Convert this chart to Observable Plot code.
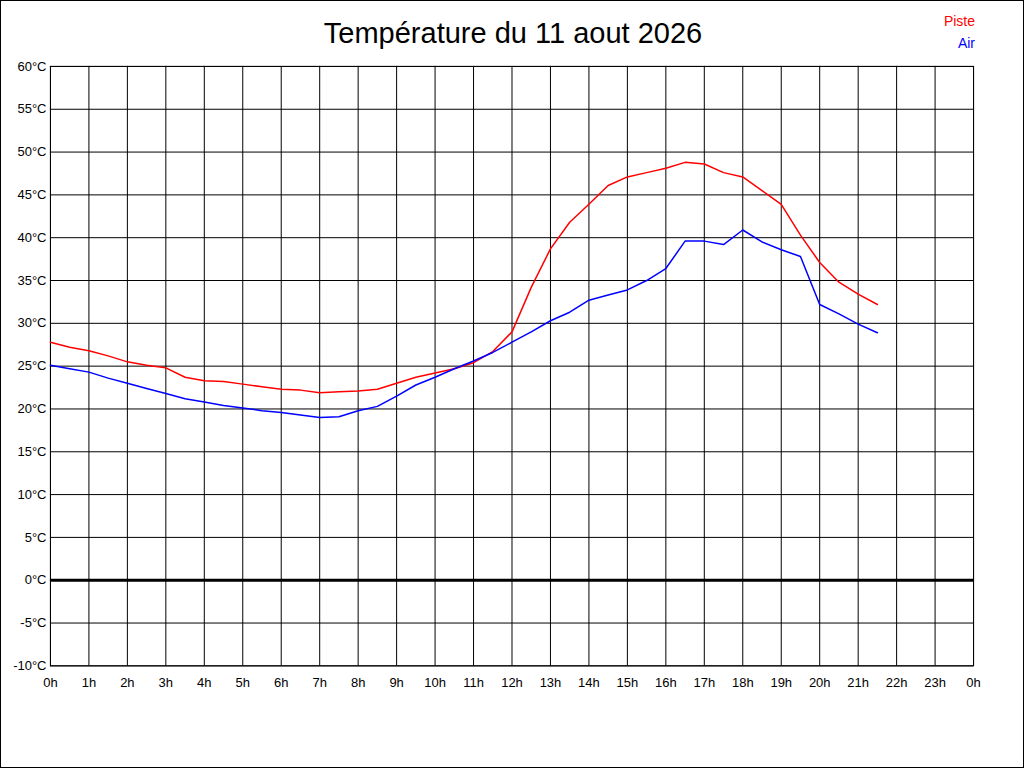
<!DOCTYPE html>
<html><head><meta charset="utf-8">
<script src="https://cdn.jsdelivr.net/npm/d3@7"></script>
<script src="https://cdn.jsdelivr.net/npm/@observablehq/plot@0.6"></script>
<style>
body{margin:0;background:#fff;font-family:"Liberation Sans",Arial,sans-serif}
#wrap{position:relative;width:1024px;height:768px;box-sizing:border-box;border:1px solid #000}
#title{position:absolute;top:16px;left:0;width:1024px;text-align:center;font-size:29px}
#leg{position:absolute;top:9px;right:48px;text-align:right;font-size:14px;line-height:22px}
#chart{position:absolute;left:-1px;top:-1px}
</style></head><body>
<div id="wrap"><div id="chart"></div>
<div id="title">Température du 11 aout 2026</div>
<div id="leg"><div style="color:#f00">Piste</div><div style="color:#00f">Air</div></div></div>
<script>
const hours = d3.range(0, 22, 0.5);
const piste = [27.8,27.2,26.8,26.2,25.5,25.1,24.8,23.7,23.3,23.2,22.9,22.6,22.3,22.2,21.9,22.0,22.1,22.3,23.0,23.7,24.2,24.7,25.4,26.7,29.0,34.2,38.7,41.8,43.9,46.1,47.1,47.6,48.1,48.8,48.6,47.6,47.1,45.5,43.9,40.3,37.1,34.8,33.4,32.2];
const air = [25.1,24.7,24.3,23.6,23.0,22.4,21.8,21.2,20.8,20.4,20.1,19.8,19.6,19.3,19.0,19.1,19.8,20.3,21.5,22.8,23.7,24.7,25.6,26.6,27.8,29.0,30.3,31.3,32.7,33.3,33.9,35.0,36.4,39.6,39.6,39.2,40.9,39.5,38.6,37.8,32.2,31.1,29.9,28.9];
const xTicks = d3.range(0, 25);
const yTicks = d3.range(-10, 61, 5);
const data = hours.map((h,i)=>({h, piste:piste[i], air:air[i]}));
const chart = Plot.plot({
  width:1024, height:768,
  marginLeft:50, marginRight:50, marginTop:66, marginBottom:102,
  style:{fontFamily:"Liberation Sans, Arial, sans-serif", fontSize:"13px", color:"#000", background:"transparent"},
  x:{domain:[0,24], label:null},
  y:{domain:[-10,60], label:null},
  marks:[
    Plot.gridX(xTicks,{stroke:"#000", strokeOpacity:1}),
    Plot.gridY(yTicks,{stroke:"#000", strokeOpacity:1}),
    Plot.ruleY([0],{stroke:"#000", strokeWidth:3}),
    Plot.frame({stroke:"#000"}),
    Plot.axisX({ticks:xTicks, tickFormat:d=>(d%24)+"h", tickSize:0, tickPadding:12, label:null}),
    Plot.axisY({ticks:yTicks, tickFormat:d=>d+"°C", tickSize:0, tickPadding:4, label:null}),
    Plot.line(data,{x:"h", y:"piste", stroke:"#f00", strokeWidth:1.5}),
    Plot.line(data,{x:"h", y:"air", stroke:"#00f", strokeWidth:1.5})
  ]
});
document.getElementById("chart").append(chart);
</script></body></html>
